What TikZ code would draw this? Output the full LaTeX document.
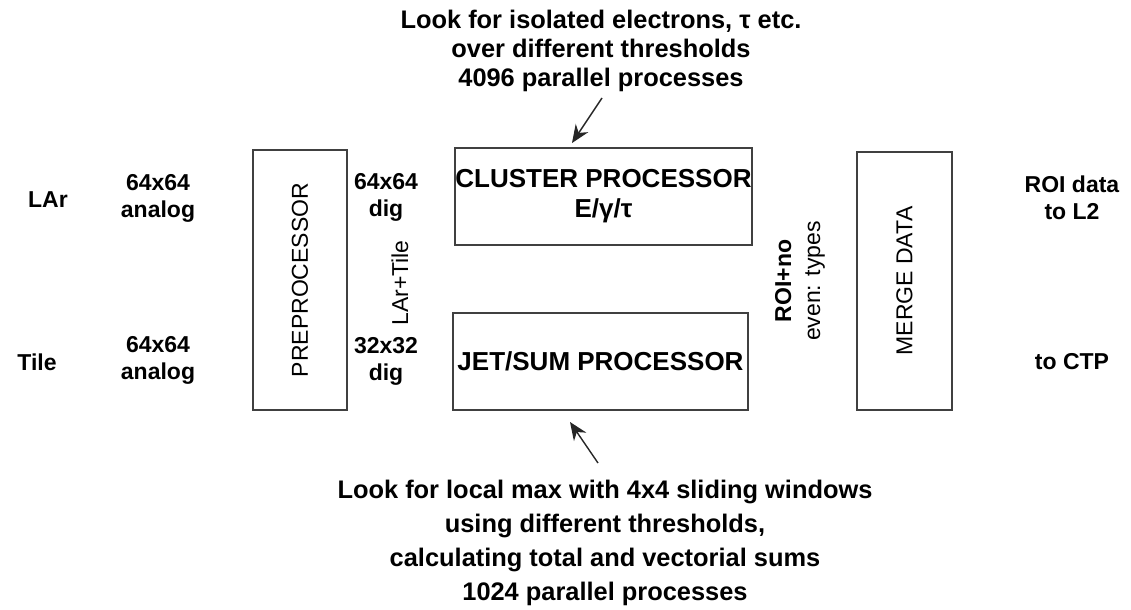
\documentclass[tikz,border=0pt]{standalone}
\usepackage{fontspec}
\setmainfont{Liberation Sans}
\usepackage{tikz}
\usetikzlibrary{arrows.meta,positioning}
\tikzset{
  blockbox/.style={
    draw=black!75, line width=1pt, inner sep=0pt, align=center,
    font=\fontsize{13}{15}\selectfont\bfseries
  },
  stagebox/.style={blockbox, rotate=90, font=\fontsize{11.5}{13}\selectfont},
  sigtag/.style={font=\fontsize{11.5}{13.5}\selectfont\bfseries, align=center},
  vtag/.style={font=\fontsize{11.5}{14.5}\selectfont, align=center, rotate=90},
  note/.style={font=\fontsize{12.7}{14.5}\selectfont\bfseries, align=center},
  pointer/.style={-{Stealth[length=9pt,width=7.5pt]}, line width=0.7pt, black!85}
}

\begin{document}
\begin{tikzpicture}[x=0.5pt,y=-0.5pt]
  \useasboundingbox (0,0) rectangle (1131,610);
  % processing blocks
  \node[stagebox, minimum width=130pt, minimum height=47pt] (pre) at (300,280) {PREPROCESSOR};
  \node[blockbox, minimum width=148.5pt, minimum height=48.5pt] (clus) at (603.5,196.5) {CLUSTER PROCESSOR\\E/γ/τ};
  \node[blockbox, minimum width=147.5pt, minimum height=48.5pt] (jet) at (600.5,361.5) {JET/SUM PROCESSOR};
  \node[stagebox, minimum width=129pt, minimum height=47.5pt] (merge) at (904.5,281) {MERGE DATA};
  % inputs
  \node[sigtag] (lar) at (48,200) {LAr};
  \node[sigtag] (tile) at (37,362) {Tile};
  \node[sigtag] (laran) at (158,198) {64x64\\analog};
  \node[sigtag] (tilean) at (158,360) {64x64\\analog};
  \node[sigtag] (lardig) at (386,197) {64x64\\dig};
  \node[sigtag] (tiledig) at (386,361) {32x32\\dig};
  \node[vtag] (sum) at (400,283) {LAr+Tile};
  \node[vtag] (roi) at (800,281) {\textbf{ROI+no}\\even: types};
  % outputs
  \node[sigtag] (tol2) at (1072,198) {ROI data\\to L2};
  \node[sigtag] (toctp) at (1072,362) {to CTP};
  % annotations
  \node[note] (clnote) at (601,51) {Look for isolated electrons, τ etc.\\over different thresholds\\4096 parallel processes};
  \node[note, font=\fontsize{12.7}{17}\selectfont\bfseries] (jetnote) at (605,543) {Look for local max with 4x4 sliding windows\\using different thresholds,\\calculating total and vectorial sums\\1024 parallel processes};
  \coordinate (clhead) at (572,143);
  \coordinate (jethead) at (570,422);
  \draw[pointer] (602,98) -- (clhead);
  \draw[pointer] (598,463) -- (jethead);
\end{tikzpicture}
\end{document}
